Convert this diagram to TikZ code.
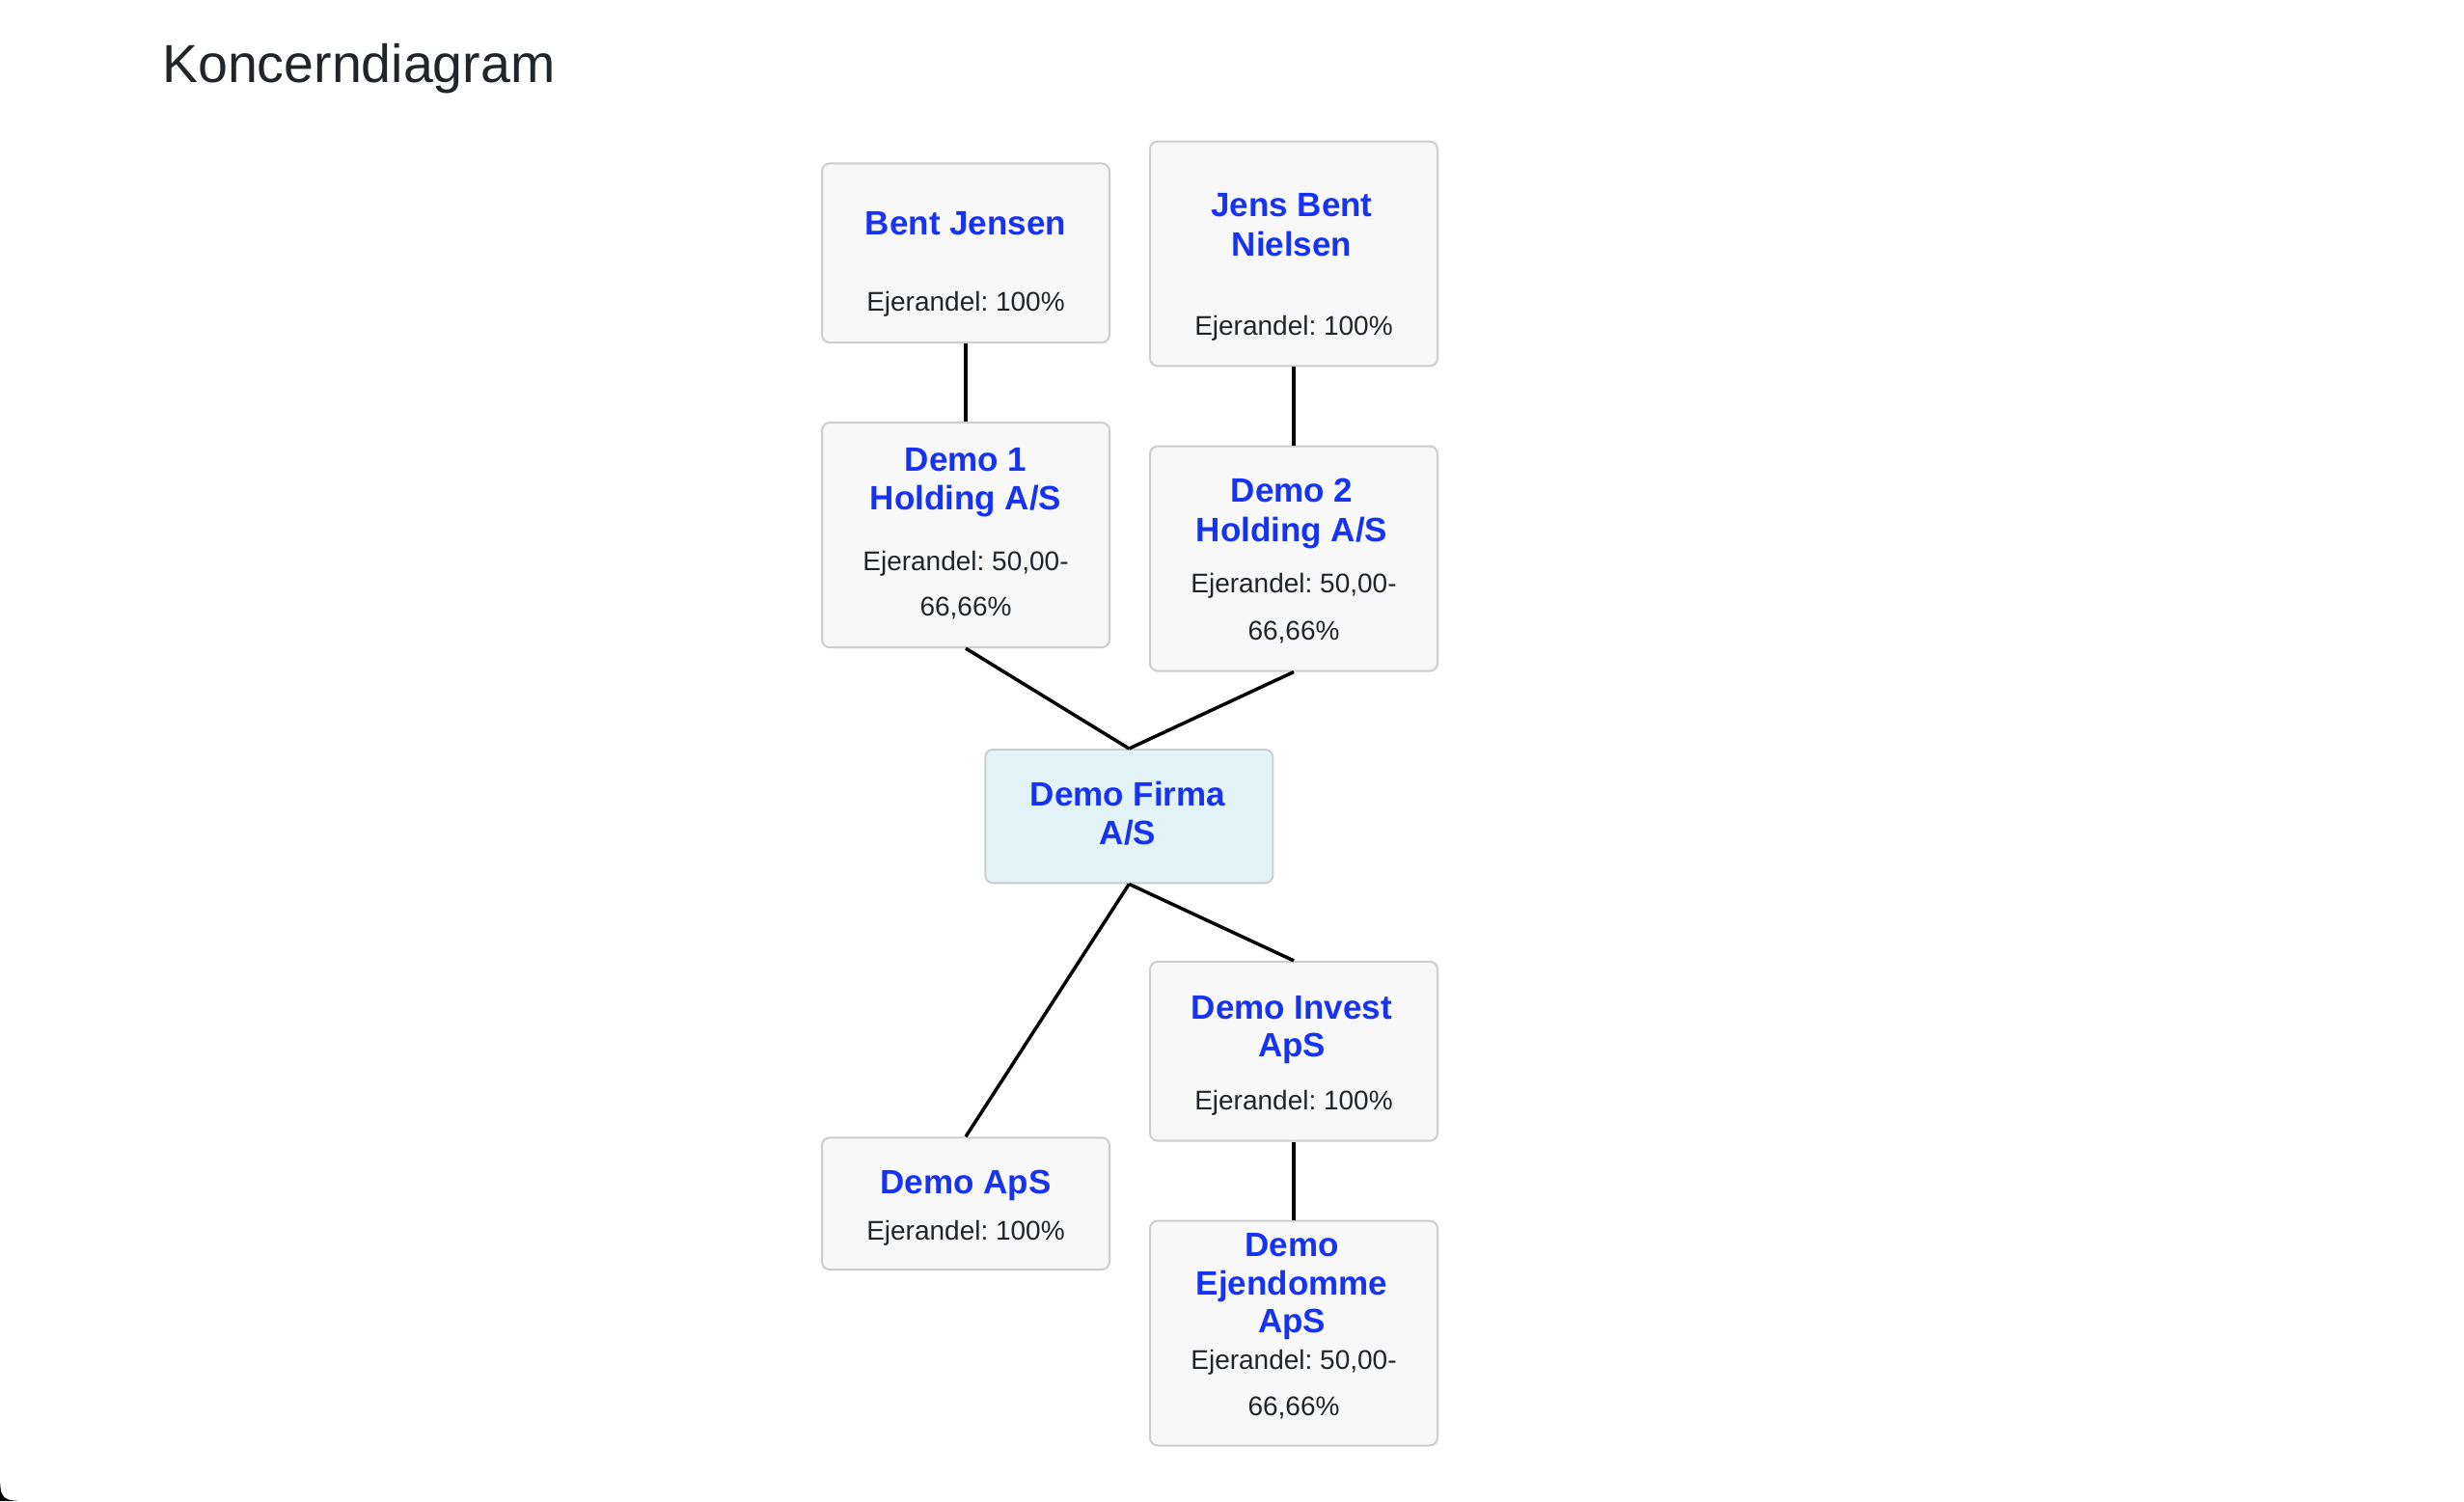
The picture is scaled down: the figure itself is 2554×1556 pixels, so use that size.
\documentclass[tikz,border=0pt]{standalone}
\usepackage{fontspec}
\setmainfont{Liberation Sans}
\frenchspacing
\definecolor{boxborder}{HTML}{CDCDCD}
\definecolor{boxfill}{HTML}{F8F8F8}
\definecolor{mainfill}{HTML}{E3F4F9}
\definecolor{namecol}{HTML}{1733F2}
\definecolor{txtcol}{HTML}{212529}
\begin{document}
\frenchspacing
\begin{tikzpicture}[x=1pt,y=-1pt,
  box/.style={draw=boxborder,line width=2pt,fill=boxfill,rounded corners=8pt,minimum width=298pt,inner sep=0pt},
  nm/.style={anchor=base,text=namecol,font=\fontsize{35}{40}\selectfont\bfseries,inner sep=0pt},
  own/.style={anchor=base,text=txtcol,font=\fontsize{28}{34}\selectfont,inner sep=0pt},
  link/.style={line width=3.5pt,black}]
% background with window corner
\fill[black] (0,1480) rectangle (60,1556);
\fill[white] (0,0) -- (2554,0) -- (2554,1556) -- (34,1556) .. controls (0,1556) .. (0,1522) -- cycle;
\useasboundingbox (0,0) rectangle (2554,1556);

\node[anchor=base west,inner sep=0pt,text=txtcol,font=\fontsize{55.5}{60}\selectfont] (title) at (168,85) {Koncerndiagram};

% boxes
\node[box,minimum height=185.7pt] (bent) at (1001,262.3) {};
\node[box,minimum height=232.9pt] (jens) at (1341,263) {};
\node[box,minimum height=233pt] (demo1) at (1001,554.6) {};
\node[box,minimum height=233pt] (demo2) at (1341,579) {};
\node[box,fill=mainfill,minimum height=138.4pt] (firma) at (1170.3,846.2) {};
\node[box,minimum height=185.7pt] (invest) at (1341,1089.7) {};
\node[box,minimum height=136.8pt] (aps) at (1001,1247.7) {};
\node[box,minimum height=233pt] (ejd) at (1341,1382) {};

% texts
\node[nm] (bent-n) at (1001,243.9) {Bent Jensen};
\node[own] (bent-o) at (1001,322.8) {Ejerandel: 100\%};

\node[nm] (jens-n1) at (1339,224.3) {Jens Bent};
\node[nm] (jens-n2) at (1339,265.1) {Nielsen};
\node[own] (jens-o) at (1341,347.3) {Ejerandel: 100\%};

\node[nm] (demo1-n1) at (1001,488.2) {Demo 1};
\node[nm] (demo1-n2) at (1001,528.9) {Holding A/S};
\node[own] (demo1-o1) at (1001,591.6) {Ejerandel: 50,00-};
\node[own] (demo1-o2) at (1001,638.8) {66,66\%};

\node[nm] (demo2-n1) at (1339,520.8) {Demo 2};
\node[nm] (demo2-n2) at (1339,561.5) {Holding A/S};
\node[own] (demo2-o1) at (1341,614.4) {Ejerandel: 50,00-};
\node[own] (demo2-o2) at (1341,663.3) {66,66\%};

\node[nm] (firma-n1) at (1169,835.1) {Demo Firma};
\node[nm] (firma-n2) at (1169,875.9) {A/S};

\node[nm] (invest-n1) at (1339,1056.7) {Demo Invest};
\node[nm] (invest-n2) at (1339,1095.8) {ApS};
\node[own] (invest-o) at (1341,1150.3) {Ejerandel: 100\%};

\node[nm] (aps-n) at (1001,1237.5) {Demo ApS};
\node[own] (aps-o) at (1001,1285.5) {Ejerandel: 100\%};

\node[nm] (ejd-n1) at (1339,1302.2) {Demo};
\node[nm] (ejd-n2) at (1339,1342.2) {Ejendomme};
\node[nm] (ejd-n3) at (1339,1381.5) {ApS};
\node[own] (ejd-o1) at (1341,1419.3) {Ejerandel: 50,00-};
\node[own] (ejd-o2) at (1341,1467) {66,66\%};

% connectors
\draw[link] (bent.south) -- (demo1.north);
\draw[link] (jens.south) -- (demo2.north);
\draw[link] (demo1.south) -- (firma.north);
\draw[link] (demo2.south) -- (firma.north);
\draw[link] (firma.south) -- (aps.north);
\draw[link] (firma.south) -- (invest.north);
\draw[link] (invest.south) -- (ejd.north);
\end{tikzpicture}
\end{document}
